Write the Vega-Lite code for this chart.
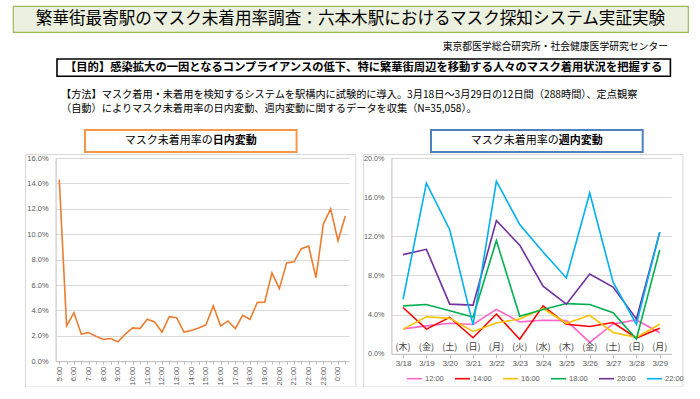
{
  "$schema": "https://vega.github.io/schema/vega-lite/v6.json",
  "padding": {"left": 12, "top": 5, "right": 0, "bottom": 0},
  "spacing": 0,
  "config": {
    "view": {"stroke": null},
    "font": "Noto Sans CJK JP",
    "text": {"font": "Noto Sans CJK JP", "color": "#000000"},
    "concat": {"spacing": 0},
    "axis": {"labelFont": "Liberation Sans", "labelColor": "#595959", "gridColor": "#d9d9d9", "gridWidth": 1.2, "domainColor": "#bfbfbf", "tickColor": "#bfbfbf"}
  },
  "vconcat": [
    {
      "width": 675, "height": 26,
      "view": {"fill": "#ebf1de", "stroke": "#9bbb59", "strokeWidth": 1.2},
      "data": {"values": [{"t": "繁華街最寄駅のマスク未着用率調査：六本木駅におけるマスク探知システム実証実験"}]},
      "mark": {"type": "text", "fontSize": 16.6},
      "encoding": {"text": {"field": "t"}}
    },
    {
      "width": 655, "height": 25,
      "data": {"values": [{"t": "東京都医学総合研究所・社会健康医学研究センター"}]},
      "mark": {"type": "text", "fontSize": 9.8, "align": "right", "dy": 1},
      "encoding": {
        "x": {"datum": 1, "type": "quantitative", "scale": {"domain": [0, 1]}, "axis": null},
        "text": {"field": "t"}
      }
    },
    {
      "hconcat": [
        {"width": 42.6, "height": 17.3, "data": {"values": [{}]}, "mark": {"type": "text", "text": "", "fontSize": 1}},
        {
          "width": 613.4, "height": 17.3,
          "view": {"fill": "#ffffff", "stroke": "#000000", "strokeWidth": 1.6},
          "data": {"values": [{"t": "【目的】感染拡大の一因となるコンプライアンスの低下、特に繁華街周辺を移動する人々のマスク着用状況を把握する"}]},
          "mark": {"type": "text", "fontSize": 11.3, "fontWeight": "bold"},
          "encoding": {"text": {"field": "t"}}
        }
      ]
    },
    {
      "hconcat": [
        {"width": 47.2, "height": 50.9, "data": {"values": [{}]}, "mark": {"type": "text", "text": "", "fontSize": 1}},
        {
          "width": 620, "height": 50.9,
          "data": {"values": [{"t": ["【方法】マスク着用・未着用を検知するシステムを駅構内に試験的に導入。3月18日～3月29日の12日間（288時間）、定点観察", "（自動）によりマスク未着用率の日内変動、週内変動に関するデータを収集（N=35,058）。"]}]},
          "mark": {"type": "text", "fontSize": 10.2, "align": "left", "baseline": "top", "lineHeight": 13.3, "dy": -13},
          "encoding": {
            "x": {"datum": 0, "type": "quantitative", "scale": {"domain": [0, 1]}, "axis": null},
            "text": {"field": "t"}
          }
        }
      ]
    },
    {
      "hconcat": [
        {"width": 10.7, "height": 230, "data": {"values": [{}]}, "mark": {"type": "text", "text": "", "fontSize": 1}},
        {
          "vconcat": [
            {
              "hconcat": [
                {"width": 59, "height": 22, "data": {"values": [{}]}, "mark": {"type": "text", "text": "", "fontSize": 1}},
                {
                  "width": 211.6, "height": 22,
                  "view": {"fill": "#ffffff", "stroke": "#f79646", "strokeWidth": 2},
                  "data": {"values": [{"a": "マスク未着用率の", "b": "日内変動"}]},
                  "layer": [
                    {"mark": {"type": "text", "fontSize": 11, "align": "right"},
                     "encoding": {"x": {"datum": 0.604, "type": "quantitative", "scale": {"domain": [0, 1]}, "axis": null}, "text": {"field": "a"}}},
                    {"mark": {"type": "text", "fontSize": 11, "align": "left", "fontWeight": "bold"},
                     "encoding": {"x": {"datum": 0.604, "type": "quantitative", "scale": {"domain": [0, 1]}, "axis": null}, "text": {"field": "b"}}}
                  ]
                }
              ]
            },
            {
              "width": 330.3, "height": 232.5,
              "view": {"stroke": "#d9d9d9", "strokeWidth": 1, "fill": null},
              "data": {"values": [
                {"t": "5:00", "v": 0.143}, {"t": "5:30", "v": 0.0278}, {"t": "6:00", "v": 0.0382}, {"t": "6:30", "v": 0.0213},
                {"t": "7:00", "v": 0.0226}, {"t": "7:30", "v": 0.0197}, {"t": "8:00", "v": 0.0171}, {"t": "8:30", "v": 0.0179},
                {"t": "9:00", "v": 0.0153}, {"t": "9:30", "v": 0.0213}, {"t": "10:00", "v": 0.0262}, {"t": "10:30", "v": 0.0257},
                {"t": "11:00", "v": 0.033}, {"t": "11:30", "v": 0.0309}, {"t": "12:00", "v": 0.0229}, {"t": "12:30", "v": 0.0351},
                {"t": "13:00", "v": 0.0343}, {"t": "13:30", "v": 0.0229}, {"t": "14:00", "v": 0.0242}, {"t": "14:30", "v": 0.0262},
                {"t": "15:00", "v": 0.0286}, {"t": "15:30", "v": 0.0436}, {"t": "16:00", "v": 0.0278}, {"t": "16:30", "v": 0.0317},
                {"t": "17:00", "v": 0.0257}, {"t": "17:30", "v": 0.0361}, {"t": "18:00", "v": 0.033}, {"t": "18:30", "v": 0.0462},
                {"t": "19:00", "v": 0.0465}, {"t": "19:30", "v": 0.0696}, {"t": "20:00", "v": 0.0571}, {"t": "20:30", "v": 0.0774},
                {"t": "21:00", "v": 0.0782}, {"t": "21:30", "v": 0.0886}, {"t": "22:00", "v": 0.0906}, {"t": "22:30", "v": 0.0657},
                {"t": "23:00", "v": 0.108}, {"t": "23:30", "v": 0.12}, {"t": "0:00", "v": 0.0948}, {"t": "0:30", "v": 0.1143}
              ]},
              "mark": {"type": "line", "color": "#ed7d31", "strokeWidth": 1.6},
              "encoding": {
                "x": {"field": "t", "type": "ordinal", "sort": null,
                      "scale": {"type": "point", "range": [30.6, 324], "padding": 0.5},
                      "axis": {"title": null, "offset": -25.3, "labelAngle": -90, "grid": false, "tickSize": 3, "labelPadding": 2, "labelFontSize": 7.5,
                               "labelExpr": "indexof(datum.value, ':30') >= 0 ? '' : datum.value"}},
                "y": {"field": "v", "type": "quantitative",
                      "scale": {"domain": [0, 0.16], "range": [207.2, 4], "nice": false, "zero": true},
                      "axis": {"title": null, "offset": -30.6, "format": ".1%", "values": [0, 0.02, 0.04, 0.06, 0.08, 0.1, 0.12, 0.14, 0.16],
                               "ticks": false, "labelPadding": 7.5, "labelFontSize": 7.5}}
              }
            }
          ]
        },
        {"width": 5.5, "height": 230, "data": {"values": [{}]}, "mark": {"type": "text", "text": "", "fontSize": 1}},
        {
          "vconcat": [
            {
              "hconcat": [
                {"width": 66.7, "height": 22, "data": {"values": [{}]}, "mark": {"type": "text", "text": "", "fontSize": 1}},
                {
                  "width": 211.7, "height": 22,
                  "view": {"fill": "#ffffff", "stroke": "#4f81bd", "strokeWidth": 2},
                  "data": {"values": [{"a": "マスク未着用率の", "b": "週内変動"}]},
                  "layer": [
                    {"mark": {"type": "text", "fontSize": 11, "align": "right"},
                     "encoding": {"x": {"datum": 0.604, "type": "quantitative", "scale": {"domain": [0, 1]}, "axis": null}, "text": {"field": "a"}}},
                    {"mark": {"type": "text", "fontSize": 11, "align": "left", "fontWeight": "bold"},
                     "encoding": {"x": {"datum": 0.604, "type": "quantitative", "scale": {"domain": [0, 1]}, "axis": null}, "text": {"field": "b"}}}
                  ]
                }
              ]
            },
            {
              "width": 319.4, "height": 232.5,
              "view": {"stroke": "#d9d9d9", "strokeWidth": 1, "fill": null},
              "data": {"values": [
                {"date": "3/18", "dow": "(木)", "time": "12:00", "v": 0.0255},
                {"date": "3/19", "dow": "(金)", "time": "12:00", "v": 0.0285},
                {"date": "3/20", "dow": "(土)", "time": "12:00", "v": 0.0312},
                {"date": "3/21", "dow": "(日)", "time": "12:00", "v": 0.0299},
                {"date": "3/22", "dow": "(月)", "time": "12:00", "v": 0.0453},
                {"date": "3/23", "dow": "(火)", "time": "12:00", "v": 0.0326},
                {"date": "3/24", "dow": "(水)", "time": "12:00", "v": 0.0342},
                {"date": "3/25", "dow": "(木)", "time": "12:00", "v": 0.0339},
                {"date": "3/26", "dow": "(金)", "time": "12:00", "v": 0.0117},
                {"date": "3/27", "dow": "(土)", "time": "12:00", "v": 0.0305},
                {"date": "3/28", "dow": "(日)", "time": "12:00", "v": 0.0346},
                {"date": "3/29", "dow": "(月)", "time": "12:00", "v": 0.0215},
                {"date": "3/18", "dow": "(木)", "time": "14:00", "v": 0.0473},
                {"date": "3/19", "dow": "(金)", "time": "14:00", "v": 0.0252},
                {"date": "3/20", "dow": "(土)", "time": "14:00", "v": 0.0372},
                {"date": "3/21", "dow": "(日)", "time": "14:00", "v": 0.0164},
                {"date": "3/22", "dow": "(月)", "time": "14:00", "v": 0.0406},
                {"date": "3/23", "dow": "(火)", "time": "14:00", "v": 0.0148},
                {"date": "3/24", "dow": "(水)", "time": "14:00", "v": 0.049},
                {"date": "3/25", "dow": "(木)", "time": "14:00", "v": 0.0302},
                {"date": "3/26", "dow": "(金)", "time": "14:00", "v": 0.0279},
                {"date": "3/27", "dow": "(土)", "time": "14:00", "v": 0.0319},
                {"date": "3/28", "dow": "(日)", "time": "14:00", "v": 0.0161},
                {"date": "3/29", "dow": "(月)", "time": "14:00", "v": 0.0262},
                {"date": "3/18", "dow": "(木)", "time": "16:00", "v": 0.0252},
                {"date": "3/19", "dow": "(金)", "time": "16:00", "v": 0.0379},
                {"date": "3/20", "dow": "(土)", "time": "16:00", "v": 0.0362},
                {"date": "3/21", "dow": "(日)", "time": "16:00", "v": 0.0228},
                {"date": "3/22", "dow": "(月)", "time": "16:00", "v": 0.0315},
                {"date": "3/23", "dow": "(火)", "time": "16:00", "v": 0.0356},
                {"date": "3/24", "dow": "(水)", "time": "16:00", "v": 0.0463},
                {"date": "3/25", "dow": "(木)", "time": "16:00", "v": 0.0312},
                {"date": "3/26", "dow": "(金)", "time": "16:00", "v": 0.0393},
                {"date": "3/27", "dow": "(土)", "time": "16:00", "v": 0.0218},
                {"date": "3/28", "dow": "(日)", "time": "16:00", "v": 0.0168},
                {"date": "3/29", "dow": "(月)", "time": "16:00", "v": 0.0302},
                {"date": "3/18", "dow": "(木)", "time": "18:00", "v": 0.049},
                {"date": "3/19", "dow": "(金)", "time": "18:00", "v": 0.0503},
                {"date": "3/20", "dow": "(土)", "time": "18:00", "v": 0.044},
                {"date": "3/21", "dow": "(日)", "time": "18:00", "v": 0.0376},
                {"date": "3/22", "dow": "(月)", "time": "18:00", "v": 0.1157},
                {"date": "3/23", "dow": "(火)", "time": "18:00", "v": 0.0383},
                {"date": "3/24", "dow": "(水)", "time": "18:00", "v": 0.0453},
                {"date": "3/25", "dow": "(木)", "time": "18:00", "v": 0.0513},
                {"date": "3/26", "dow": "(金)", "time": "18:00", "v": 0.0503},
                {"date": "3/27", "dow": "(土)", "time": "18:00", "v": 0.0419},
                {"date": "3/28", "dow": "(日)", "time": "18:00", "v": 0.0151},
                {"date": "3/29", "dow": "(月)", "time": "18:00", "v": 0.106},
                {"date": "3/18", "dow": "(木)", "time": "20:00", "v": 0.1013},
                {"date": "3/19", "dow": "(金)", "time": "20:00", "v": 0.1067},
                {"date": "3/20", "dow": "(土)", "time": "20:00", "v": 0.0507},
                {"date": "3/21", "dow": "(日)", "time": "20:00", "v": 0.0497},
                {"date": "3/22", "dow": "(月)", "time": "20:00", "v": 0.136},
                {"date": "3/23", "dow": "(火)", "time": "20:00", "v": 0.111},
                {"date": "3/24", "dow": "(水)", "time": "20:00", "v": 0.069},
                {"date": "3/25", "dow": "(木)", "time": "20:00", "v": 0.0507},
                {"date": "3/26", "dow": "(金)", "time": "20:00", "v": 0.0815},
                {"date": "3/27", "dow": "(土)", "time": "20:00", "v": 0.0681},
                {"date": "3/28", "dow": "(日)", "time": "20:00", "v": 0.0356},
                {"date": "3/29", "dow": "(月)", "time": "20:00", "v": 0.124},
                {"date": "3/18", "dow": "(木)", "time": "22:00", "v": 0.0557},
                {"date": "3/19", "dow": "(金)", "time": "22:00", "v": 0.1743},
                {"date": "3/20", "dow": "(土)", "time": "22:00", "v": 0.1267},
                {"date": "3/21", "dow": "(日)", "time": "22:00", "v": 0.0295},
                {"date": "3/22", "dow": "(月)", "time": "22:00", "v": 0.1763},
                {"date": "3/23", "dow": "(火)", "time": "22:00", "v": 0.132},
                {"date": "3/24", "dow": "(水)", "time": "22:00", "v": 0.104},
                {"date": "3/25", "dow": "(木)", "time": "22:00", "v": 0.0775},
                {"date": "3/26", "dow": "(金)", "time": "22:00", "v": 0.1643},
                {"date": "3/27", "dow": "(土)", "time": "22:00", "v": 0.0732},
                {"date": "3/28", "dow": "(日)", "time": "22:00", "v": 0.0302},
                {"date": "3/29", "dow": "(月)", "time": "22:00", "v": 0.1243}
              ]},
              "encoding": {
                "x": {"field": "date", "type": "ordinal", "sort": null,
                      "scale": {"type": "point", "range": [28.4, 308.4], "padding": 0.5},
                      "axis": {"title": null, "offset": -32.7, "labelAngle": 0, "grid": false, "tickSize": 4, "labelPadding": 2, "labelFontSize": 8}}
              },
              "layer": [
                {
                  "mark": {"type": "line", "strokeWidth": 1.6},
                  "encoding": {
                    "y": {"field": "v", "type": "quantitative",
                          "scale": {"domain": [0, 0.2], "range": [199.8, 4], "nice": false},
                          "axis": {"title": null, "offset": -28.4, "format": ".1%", "values": [0, 0.02, 0.04, 0.06, 0.08, 0.1, 0.12, 0.14, 0.16, 0.18, 0.2],
                                   "ticks": false, "labelPadding": 7.4, "labelFontSize": 7.2}},
                    "color": {"field": "time", "type": "nominal",
                              "scale": {"domain": ["12:00", "14:00", "16:00", "18:00", "20:00", "22:00"],
                                        "range": ["#ff66cc", "#ff0000", "#ffc000", "#00b050", "#7030a0", "#00b0f0"]},
                              "legend": {"title": null, "orient": "none", "legendX": 393, "legendY": 364.2, "direction": "horizontal",
                                         "symbolType": "stroke", "symbolSize": 225, "symbolStrokeWidth": 1.6, "labelFont": "Liberation Sans",
                                         "labelFontSize": 7.5, "labelColor": "#595959", "labelOffset": 2, "columnPadding": 7, "padding": 0}}
                  }
                },
                {
                  "transform": [{"filter": "datum.time === '12:00'"}],
                  "mark": {"type": "text", "fontSize": 9, "color": "#404040"},
                  "encoding": {
                    "y": {"datum": 0.0065, "type": "quantitative"},
                    "text": {"field": "dow"}
                  }
                }
              ]
            }
          ]
        }
      ]
    }
  ]
}
